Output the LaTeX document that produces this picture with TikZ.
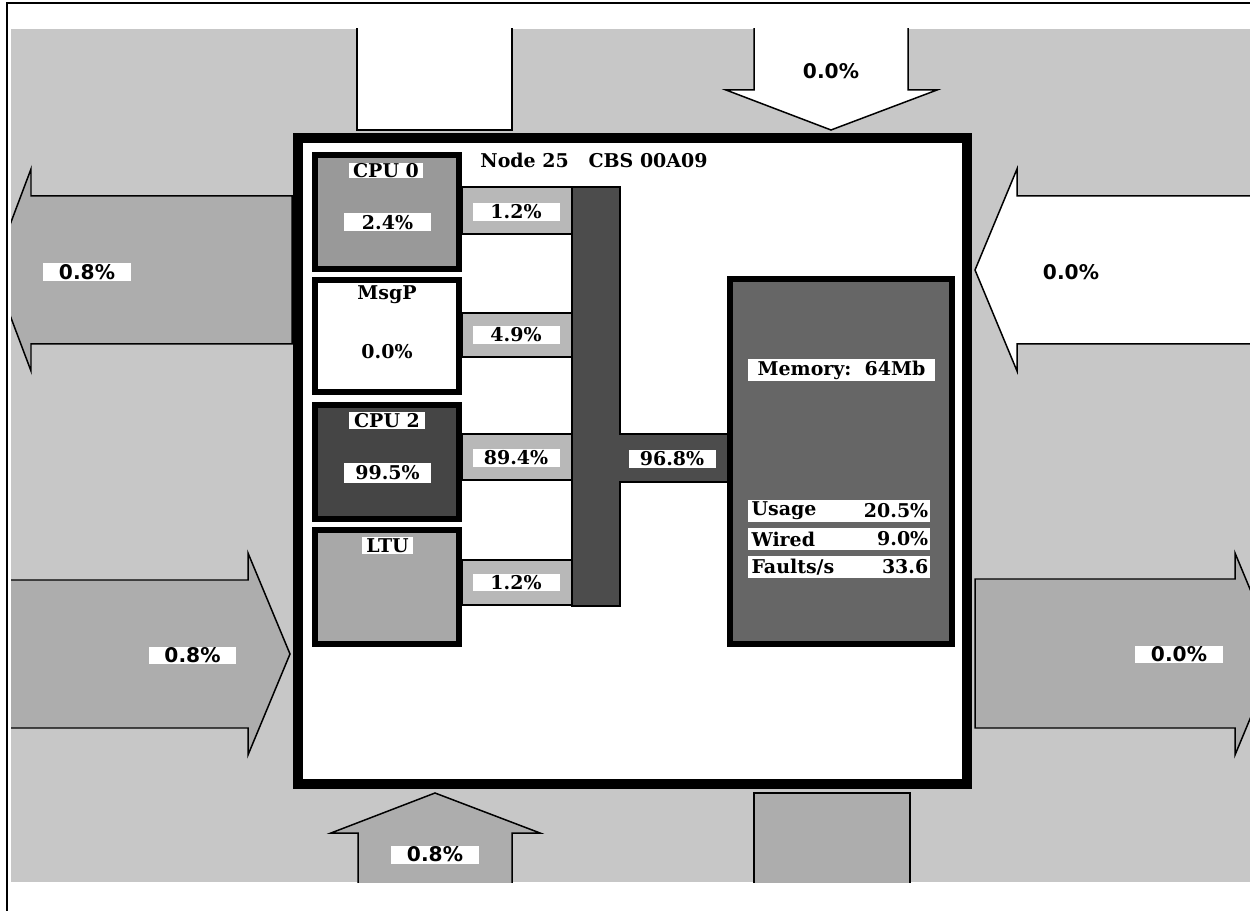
\documentclass[tikz,border=0pt]{standalone}
\usepackage{fontspec}
\setmainfont{DejaVu Serif}
\newfontfamily\arrowfont{DejaVu Sans}
\definecolor{bgray}{gray}{0.78}
\definecolor{agray}{gray}{0.68}
\definecolor{cpuzero}{gray}{0.60}
\definecolor{ltugray}{gray}{0.66}
\definecolor{cputwo}{gray}{0.27}
\definecolor{busgray}{gray}{0.30}
\definecolor{memgray}{gray}{0.40}
\definecolor{linkgray}{gray}{0.72}
\begin{document}
\begin{tikzpicture}[x=0.02cm,y=-0.02cm,
  arrowshape/.style={draw=black,line width=0.85pt,line join=miter},
  modbox/.style={draw=black,line width=3.4pt},
  linkbox/.style={draw=black,line width=1.1pt,fill=linkgray},
  txt/.style={font=\bfseries\fontsize{10.8}{12}\selectfont,inner sep=0pt},
  lbl/.style={txt,fill=white,minimum width=1.74cm,minimum height=0.36cm},
  albl/.style={fill=white,inner sep=0pt,minimum width=1.76cm,minimum height=0.36cm,
    font=\arrowfont\bfseries\fontsize{11.5}{12}\selectfont},
  rowbox/.style={fill=white,inner sep=0pt,minimum width=3.64cm,minimum height=0.44cm}]
\useasboundingbox (0,0) rectangle (1250,911);
\fill[white] (0,0) rectangle (1250,911);
\draw[line width=0.8pt] (7,911) -- (7,3) -- (1250,3);
\fill[bgray] (11,29) rectangle (1250,882);
% arrows and stubs
\begin{scope}
\clip (11,29) rectangle (1250,882);
% upper left, pointing left
\draw[arrowshape,fill=agray] (292,196) -- (31,196) -- (31,169) -- (-7,270) -- (31,371) -- (31,344) -- (292,344) -- cycle;
% upper right, pointing left, white
\draw[arrowshape,fill=white] (1260,196) -- (1017,196) -- (1017,169) -- (975,270) -- (1017,371) -- (1017,344) -- (1260,344);
% lower left, pointing right
\draw[arrowshape,fill=agray] (0,580) -- (248,580) -- (248,553) -- (290,654) -- (248,755) -- (248,728) -- (0,728);
% lower right, pointing right
\draw[arrowshape,fill=agray] (975,579) -- (1235,579) -- (1235,553) -- (1277,654) -- (1235,755) -- (1235,728) -- (975,728) -- cycle;
% top stub (white)
\draw[arrowshape,fill=white] (357,20) -- (357,130) -- (512,130) -- (512,20);
% top arrow pointing down (white)
\draw[arrowshape,fill=white] (754,20) -- (754,90) -- (726,90) -- (831,130) -- (937,90) -- (908,90) -- (908,20);
% bottom arrow pointing up
\draw[arrowshape,fill=agray] (358,890) -- (358,833) -- (331,833) -- (435,793) -- (540,833) -- (512,833) -- (512,890);
% bottom right stub
\draw[arrowshape,fill=agray] (754,890) -- (754,793) -- (910,793) -- (910,890);
\end{scope}
% arrow labels
\node[albl] (lup) at (87,272) {0.8\%};
\node[albl,fill=none] (rup) at (1071,272) {0.0\%};
\node[albl] (llo) at (192.5,655.5) {0.8\%};
\node[albl] (rlo) at (1179,654.5) {0.0\%};
\node[albl,fill=none] (top) at (831,71) {0.0\%};
\node[albl] (bot) at (435,854.5) {0.8\%};
% main box
\draw[line width=5.7pt,fill=white] (298,138) rectangle (967,784);
\node[txt] (title) at (594,160) {Node 25\ \ \ CBS 00A09};
% bus and links
\draw[line width=1.1pt,fill=busgray] (572,187) -- (620,187) -- (620,434) -- (728,434) -- (728,482) -- (620,482) -- (620,606) -- (572,606) -- cycle;
\draw[linkbox] (462,187) rectangle (572,234);
\draw[linkbox] (462,313) rectangle (572,357);
\draw[linkbox] (462,434) rectangle (572,480);
\draw[linkbox] (462,560) rectangle (572,605);
\node[lbl] (l1) at (516,212) {1.2\%};
\node[lbl] (l2) at (516,335) {4.9\%};
\node[lbl] (l3) at (516,458) {89.4\%};
\node[lbl] (l4) at (516,582.5) {1.2\%};
\node[lbl] (lm) at (672,459) {96.8\%};
% modules
\draw[modbox,fill=cpuzero] (315,155) rectangle (459,269);
\draw[modbox,fill=white] (315,280) rectangle (459,392);
\draw[modbox,fill=cputwo] (315,405) rectangle (459,519);
\draw[modbox,fill=ltugray] (315,530) rectangle (459,644);
\node[lbl,minimum width=1.48cm,minimum height=0.30cm] (c0) at (386,170.5) {CPU 0};
\node[lbl] (c0v) at (387.5,222.5) {2.4\%};
\node[txt] (mp) at (387,295) {MsgP};
\node[txt] (mpv) at (387,352) {0.0\%};
\node[lbl,minimum width=1.52cm,minimum height=0.34cm] (c2) at (387,420.5) {CPU 2};
\node[lbl,minimum height=0.40cm] (c2v) at (387.5,473) {99.5\%};
\node[lbl,minimum width=1.02cm,minimum height=0.34cm] (lt) at (387.5,545.5) {LTU};
% memory
\draw[modbox,fill=memgray] (730,279) rectangle (952,644);
\node[lbl,minimum width=3.74cm,minimum height=0.44cm] (mem) at (841.5,370) {Memory:\ \ 64Mb};
\node[rowbox] (usage) at (839,511) {};
\node[rowbox] (wired) at (839,539) {};
\node[rowbox] (faults) at (839,567) {};
\node[txt,anchor=west] (usk) at ([xshift=2pt]usage.west) {Usage};
\node[txt,anchor=east] (usv) at ([xshift=-1pt]usage.east) {20.5\%};
\node[txt,anchor=west] (wik) at ([xshift=2pt]wired.west) {Wired};
\node[txt,anchor=east] (wiv) at ([xshift=-1pt]wired.east) {9.0\%};
\node[txt,anchor=west] (fak) at ([xshift=2pt]faults.west) {Faults/s};
\node[txt,anchor=east] (fav) at ([xshift=-1pt]faults.east) {33.6};
\end{tikzpicture}
\end{document}
